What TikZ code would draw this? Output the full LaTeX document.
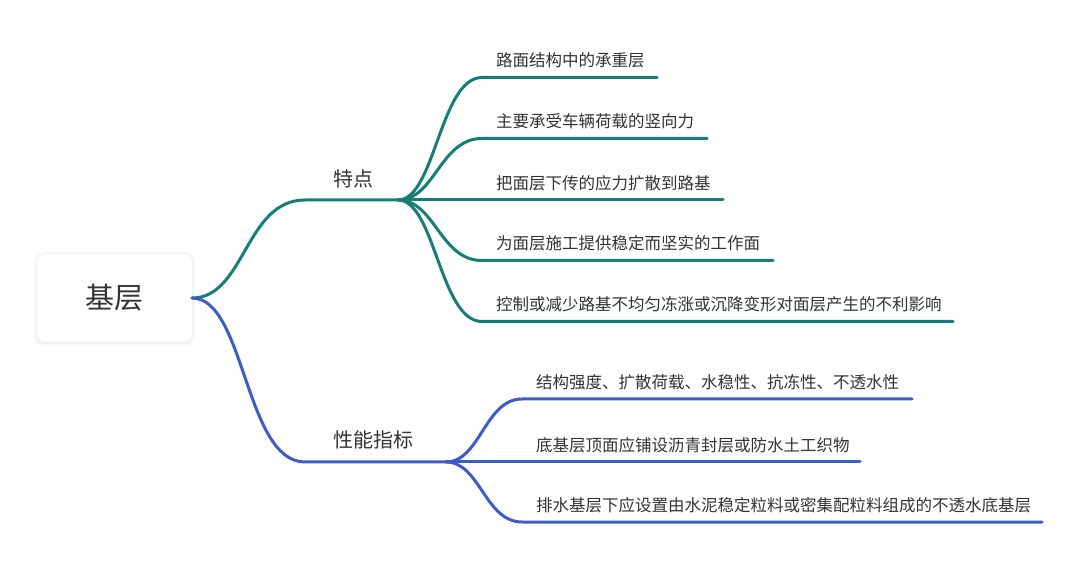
\documentclass[tikz,border=0pt]{standalone}
\usepackage{fontspec}
\setmainfont{Noto Sans CJK SC}
\definecolor{teal1}{HTML}{167D78}
\definecolor{blue1}{HTML}{3D5CC8}
\definecolor{txt}{HTML}{333333}
\begin{document}
\begin{tikzpicture}[x=1pt,y=-1pt,
  conn/.style={line width=3pt,line cap=round},
  tconn/.style={conn,draw=teal1},
  bconn/.style={conn,draw=blue1},
  leaf/.style={anchor=base west,inner sep=0pt,text=txt,font=\fontsize{16.5}{18}\selectfont},
  branch/.style={anchor=base west,inner sep=0pt,text=txt,font=\fontsize{20}{22}\selectfont},
  rootbox/.style={draw=black!5,line width=0.5pt,fill=white,rounded corners=8pt,minimum width=155pt,minimum height=88pt,text=txt,font=\fontsize{29}{32}\selectfont}]
\useasboundingbox (0,0) rectangle (1080,561);
% soft shadow
\fill[black!3,rounded corners=10pt] (34,252) rectangle (195,346);
\fill[black!5,rounded corners=9pt] (36,254) rectangle (193,344);
\node[rootbox] (root) at (114.5,298) {基层};
\coordinate (rs) at (192,298);
% teal branch
\coordinate (t0) at (305,200);
\coordinate (th) at (398,200);
\node[branch] (tl) at (333,186.5) {特点};
\draw[tconn] (rs) .. controls (245,298) and (245,200) .. (t0) -- (th);
\foreach \i/\y/\e/\t in {1/77.5/657/路面结构中的承重层,
  2/138.5/707/主要承受车辆荷载的竖向力,
  3/200/723/把面层下传的应力扩散到路基,
  4/260.5/773/为面层施工提供稳定而坚实的工作面,
  5/321.5/953/控制或减少路基不均匀冻涨或沉降变形对面层产生的不利影响}{
  \coordinate (ts\i) at (482,\y);
  \coordinate (te\i) at (\e,\y);
  \node[leaf] (tn\i) at (496,\y-10.5) {\t};
  \draw[tconn] (th) .. controls (435,200) and (440,\y) .. (ts\i) -- (te\i);
}
% blue branch
\coordinate (b0) at (305,462);
\coordinate (bh) at (446,462);
\node[branch] (bl) at (333,447.5) {性能指标};
\draw[bconn] (rs) .. controls (245,298) and (245,462) .. (b0) -- (bh);
\foreach \i/\y/\e/\t in {1/399/912/结构强度、扩散荷载、水稳性、抗冻性、不透水性,
  2/462/860/底基层顶面应铺设沥青封层或防水土工织物,
  3/522/1042/排水基层下应设置由水泥稳定粒料或密集配粒料组成的不透水底基层}{
  \coordinate (bs\i) at (522,\y);
  \coordinate (be\i) at (\e,\y);
  \node[leaf] (bn\i) at (536,\y-10.5) {\t};
  \draw[bconn] (bh) .. controls (480,462) and (485,\y) .. (bs\i) -- (be\i);
}
\end{tikzpicture}
\end{document}
